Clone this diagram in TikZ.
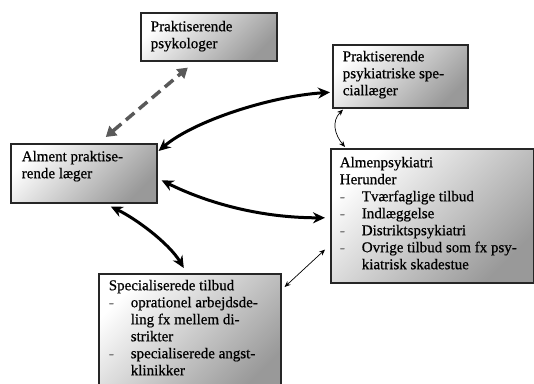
\documentclass[tikz,border=0pt]{standalone}
\usepackage{fontspec}
\setmainfont[FakeBold=0.6]{Liberation Serif}
\usetikzlibrary{arrows.meta,calc}
\newcommand\dl{\makebox[22pt][l]{\textcolor{gray}{-}}}
\newcommand\ind{\hspace*{22pt}}
\newcommand\boxnode[8]{%
  \node[box, inner xsep=#6pt, inner ysep=#7pt] (#1) at (#2,#3)
  {\parbox[t][\dimexpr #5pt-#7pt*2\relax][t]{\dimexpr #4pt-#6pt*2\relax}{\raggedright #8}};}
\tikzset{
  box/.style={draw=black!85, line width=1.6pt, top color=white, bottom color=gray!80,
    shading angle=45, anchor=north west, font=\fontsize{15}{17}\selectfont},
  bigarrow/.style={line width=3pt,
    {Stealth[length=12pt,width=11pt]}-{Stealth[length=12pt,width=11pt]}},
  smallarrow/.style={line width=0.7pt,
    {Stealth[length=6pt,width=5pt]}-{Stealth[length=6pt,width=5pt]}},
  dasharrow/.style={line width=3.5pt, color=gray!70!black, dash pattern=on 11pt off 6pt,
    {Triangle[length=10pt,width=12pt]}-{Triangle[length=10pt,width=12pt]}}
}
\begin{document}
\begin{tikzpicture}[x=1pt,y=-1pt]
\useasboundingbox (0,0) rectangle (534,383);
\boxnode{psyk}{140}{12}{136}{48}{10}{8}{Praktiserende\\psykologer}
\boxnode{spec}{332}{44}{135}{63}{10}{6}{Praktiserende\\psykiatriske spe-\\ciallæger}
\boxnode{alment}{10}{143}{146}{59}{11}{7}{Alment praktise-\\rende læger}
\boxnode{almen}{330}{148}{203}{134}{9}{8}{Almenpsykiatri\\Herunder\\\dl Tværfaglige tilbud\\\dl Indlæggelse\\\dl Distriktspsykiatri\\\dl Ovrige tilbud som fx psy-\\\ind kiatrisk skadestue}
\boxnode{tilbud}{98}{273}{182}{122}{10}{6}{Specialiserede tilbud\\\dl oprationel arbejdsde-\\\ind ling fx mellem di-\\\ind strikter\\\dl specialiserede angst-\\\ind klinikker}
% connectors
\draw[dasharrow] ($(alment.north)+(22,-6)$) -- ($(psyk.south)+(-21,6)$);
\draw[bigarrow] ($(alment.north east)+(1,8)$) .. controls +(35,-30) and +(-60,4) .. ($(spec.west)+(-2,16)$);
\draw[bigarrow] ($(alment.east)+(4,7)$) .. controls +(40,20) and +(-70,0) .. ($(almen.west)+(-5,2)$);
\draw[bigarrow] ($(alment.south)+(27,3)$) .. controls +(25,12) and +(-15,-25) .. ($(tilbud.north)+(-6,-5)$);
\draw[smallarrow] ($(spec.south west)+(11,1)$) .. controls +(-12,12) and +(-10,-12) .. ($(almen.north west)+(15,-1)$);
\draw[smallarrow] ($(tilbud.north east)+(3,14)$) -- ($(almen.south west)+(-5,-34)$);
\end{tikzpicture}
\end{document}
